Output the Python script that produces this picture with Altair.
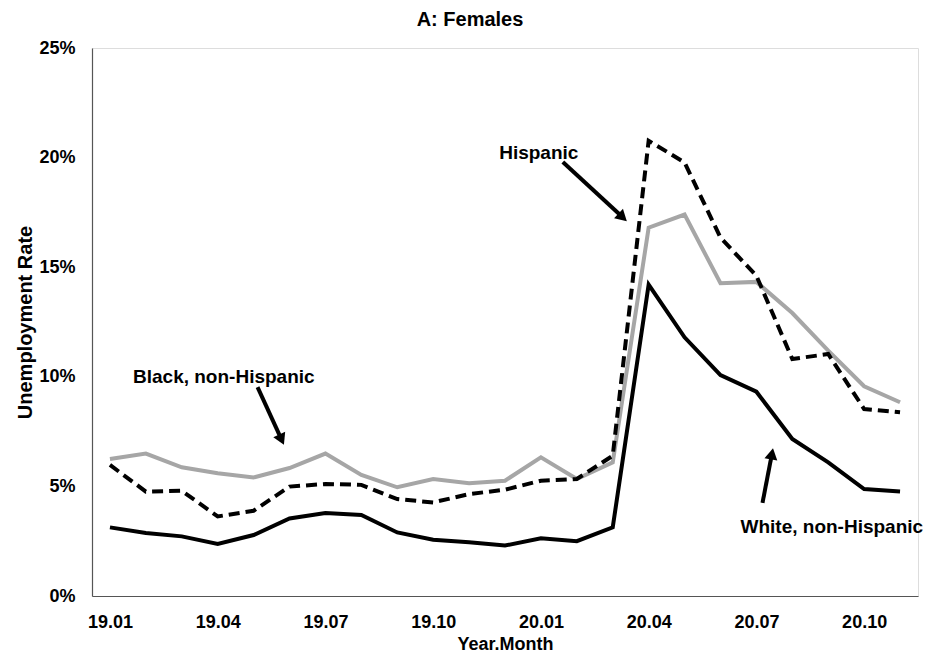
import json
import math
import altair as alt
import pandas as pd

# ---------------- data ----------------
months = ["19.01", "19.02", "19.03", "19.04", "19.05", "19.06", "19.07", "19.08",
          "19.09", "19.10", "19.11", "19.12", "20.01", "20.02", "20.03", "20.04",
          "20.05", "20.06", "20.07", "20.08", "20.09", "20.10", "20.11"]
tick_labels = ["19.01", "19.04", "19.07", "19.10", "20.01", "20.04", "20.07", "20.10"]

black_nh = [6.25, 6.50, 5.87, 5.60, 5.41, 5.84, 6.50, 5.52, 4.96, 5.34, 5.14, 5.26,
            6.33, 5.34, 6.10, 16.80, 17.40, 14.27, 14.33, 12.91, 11.19, 9.57, 8.84]
hispanic = [5.98, 4.76, 4.80, 3.63, 3.89, 4.99, 5.11, 5.07, 4.42, 4.27, 4.65, 4.85,
            5.26, 5.34, 6.40, 20.77, 19.78, 16.35, 14.61, 10.81, 11.04, 8.53, 8.38]
white_nh = [3.13, 2.87, 2.72, 2.37, 2.78, 3.54, 3.79, 3.70, 2.90, 2.57, 2.45, 2.30,
            2.63, 2.50, 3.13, 14.21, 11.80, 10.08, 9.32, 7.16, 6.10, 4.88, 4.77]

y_ticks = [0, 5, 10, 15, 20, 25]

# annotation labels: text, x (month index), y (percent)
ann_text = ["Hispanic", "Black, non-Hispanic", "White, non-Hispanic"]
ann_x = [11.94, 3.17, 20.10]
ann_y = [20.20, 9.99, 3.15]
# arrows: start (x, y) and tip (x, y) in data units
arrow_x0 = [12.61, 4.11, 18.17]
arrow_y0 = [19.80, 9.53, 4.25]
arrow_x1 = [14.42, 4.86, 18.47]
arrow_y1 = [17.06, 6.84, 6.80]

# ---------------- layout ----------------
W, H = 826, 548
FONT = "Liberation Sans"
x_dom = [-0.5, len(months) - 0.5]
y_dom = [0, 25]
px_x = W / (x_dom[1] - x_dom[0])
px_y = H / (y_dom[1] - y_dom[0])

series_names = ["Black, non-Hispanic", "Hispanic", "White, non-Hispanic"]
series_vals = [black_nh, hispanic, white_nh]
rows = []
for name, vals in zip(series_names, series_vals):
    for i, v in enumerate(vals):
        rows.append({"series": name, "idx": i, "month": months[i], "rate": v})
df = pd.DataFrame(rows)

# arrow geometry (head placed near tip, rotated along the shaft)
head_back = 7  # px
arr_rows = []
for x0, y0, x1, y1 in zip(arrow_x0, arrow_y0, arrow_x1, arrow_y1):
    dxp = (x1 - x0) * px_x
    dyp = -(y1 - y0) * px_y
    L = math.hypot(dxp, dyp)
    hx = x1 - (dxp / L) * head_back / px_x
    hy = y1 + (dyp / L) * head_back / px_y
    ang = math.degrees(math.atan2(dxp, -dyp)) % 360
    arr_rows.append({"x0": x0, "y0": y0, "hx": hx, "hy": hy, "angle": ang})
arr_df = pd.DataFrame(arr_rows)
ann_df = pd.DataFrame({"text": ann_text, "x": ann_x, "y": ann_y})

label_expr = json.dumps(months) + "[round(datum.value)]"
tick_vals = [months.index(t) for t in tick_labels]

x_enc = alt.X(
    "idx:Q",
    scale=alt.Scale(domain=x_dom, nice=False, zero=False),
    axis=alt.Axis(values=tick_vals, labelExpr=label_expr, title="Year.Month",
                  grid=False, ticks=False, labelPadding=17, titlePadding=4,
                  labelFont=FONT, labelFontSize=18, labelFontWeight="bold",
                  labelColor="#000000", titleFont=FONT, titleFontSize=18,
                  titleFontWeight="bold", titleColor="#000000",
                  domainColor="#555555", domainWidth=1.2),
)
y_enc = alt.Y(
    "rate:Q",
    scale=alt.Scale(domain=y_dom, nice=False),
    axis=alt.Axis(values=y_ticks, labelExpr="datum.value + '%'",
                  title="Unemployment Rate", grid=False, ticks=False,
                  labelPadding=17, titlePadding=3, labelFont=FONT,
                  labelFontSize=18, labelFontWeight="bold", labelColor="#000000",
                  titleFont=FONT, titleFontSize=20, titleFontWeight="bold",
                  titleColor="#000000", domainColor="#555555", domainWidth=1.2),
)

base = alt.Chart(df).encode(x=x_enc, y=y_enc)

gray_line = base.transform_filter(alt.datum.series == "Black, non-Hispanic").mark_line(
    color="#a6a6a6", strokeWidth=4)
dash_line = base.transform_filter(alt.datum.series == "Hispanic").mark_line(
    color="#000000", strokeWidth=4, strokeDash=[11, 6])
black_line = base.transform_filter(alt.datum.series == "White, non-Hispanic").mark_line(
    color="#000000", strokeWidth=4)

xs = alt.Scale(domain=x_dom, nice=False, zero=False)
ys = alt.Scale(domain=y_dom, nice=False)

shafts = alt.Chart(arr_df).mark_rule(color="#000000", strokeWidth=4).encode(
    x=alt.X("x0:Q", scale=xs), x2="hx:Q",
    y=alt.Y("y0:Q", scale=ys), y2="hy:Q",
)
heads = alt.Chart(arr_df).mark_point(
    shape="triangle-up", filled=True, color="#000000", opacity=1, size=170
).encode(
    x=alt.X("hx:Q", scale=xs), y=alt.Y("hy:Q", scale=ys),
    angle=alt.Angle("angle:Q", scale=None),
)
labels = alt.Chart(ann_df).mark_text(
    font=FONT, fontSize=19, fontWeight="bold", color="#000000",
    align="center", baseline="middle"
).encode(
    x=alt.X("x:Q", scale=xs), y=alt.Y("y:Q", scale=ys), text="text:N"
)

chart = alt.layer(gray_line, dash_line, black_line, shafts, heads, labels).properties(
    width=W, height=H,
    title=alt.TitleParams("A: Females", font=FONT, fontSize=20, fontWeight="bold",
                          color="#000000", anchor="middle", offset=9, dx=-35),
    autosize=alt.AutoSizeParams(type="none"),
    padding={"left": 84, "top": 40, "right": 9, "bottom": 57},
).configure_view(stroke=None).configure(background="#ffffff")

chart.save("out.html", embed_options={"renderer": "svg", "actions": False})
